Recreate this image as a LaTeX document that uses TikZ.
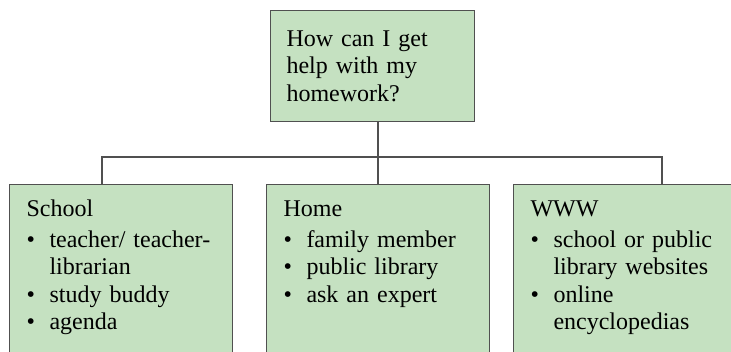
\documentclass[tikz,border=0pt]{standalone}
\usepackage{fontspec}
\setmainfont{Liberation Serif}
\usepackage{enumitem}
\usetikzlibrary{positioning}

\definecolor{boxgreen}{RGB}{197,225,193}
\definecolor{boxedge}{RGB}{80,80,80}

\setlist[itemize]{label=\textbullet, leftmargin=17.25pt, labelindent=0pt,
  labelwidth=10pt, labelsep=7.25pt, align=left, topsep=2.75pt,
  partopsep=0pt, itemsep=0pt, parsep=0pt}

\begin{document}
\begin{tikzpicture}[x=0.75pt, y=-0.75pt,
    every node/.style={font=\fontsize{18}{20.5}\selectfont},
    box/.style={draw=boxedge, fill=boxgreen, line width=0.75pt,
      anchor=north west, align=left},
    topic/.style={box, text width=129pt, inner xsep=12pt, inner ysep=0pt,
      minimum height=83.25pt},
    branch/.style={box, text width=141.75pt, inner xsep=12.75pt,
      inner ysep=11.7pt, text height=12.3pt, text depth=150pt},
    link/.style={draw=boxedge, line width=0.9pt}]

    % page frame, the lower boxes run off the bottom edge
    \useasboundingbox (0,0) rectangle (731,352);
    \clip (0,0) rectangle (731,352);

    % the question on top
    \node[topic] (question) at (270,10) {How can I get\\ help with my\\ homework?};

    % the three places to look
    \node[branch] (school) at (9,184) {School
      \begin{itemize}
        \item teacher/ teacher-\\librarian
        \item study buddy
        \item agenda
      \end{itemize}};
    \node[branch] (home) at (266,184) {Home
      \begin{itemize}
        \item family member
        \item public library
        \item ask an expert
      \end{itemize}};
    \node[branch] (www) at (513,184) {WWW
      \begin{itemize}
        \item school or public\\library websites
        \item online\\encyclopedias
      \end{itemize}};

    % connectors
    \coordinate (bus) at (377,157);
    \coordinate (schooltap) at (102,184);
    \coordinate (wwwtap) at (662,184);
    \draw[link] (question.south -| home.north) -- (home.north);
    \draw[link] (schooltap) |- (bus) -| (wwwtap);

\end{tikzpicture}
\end{document}
